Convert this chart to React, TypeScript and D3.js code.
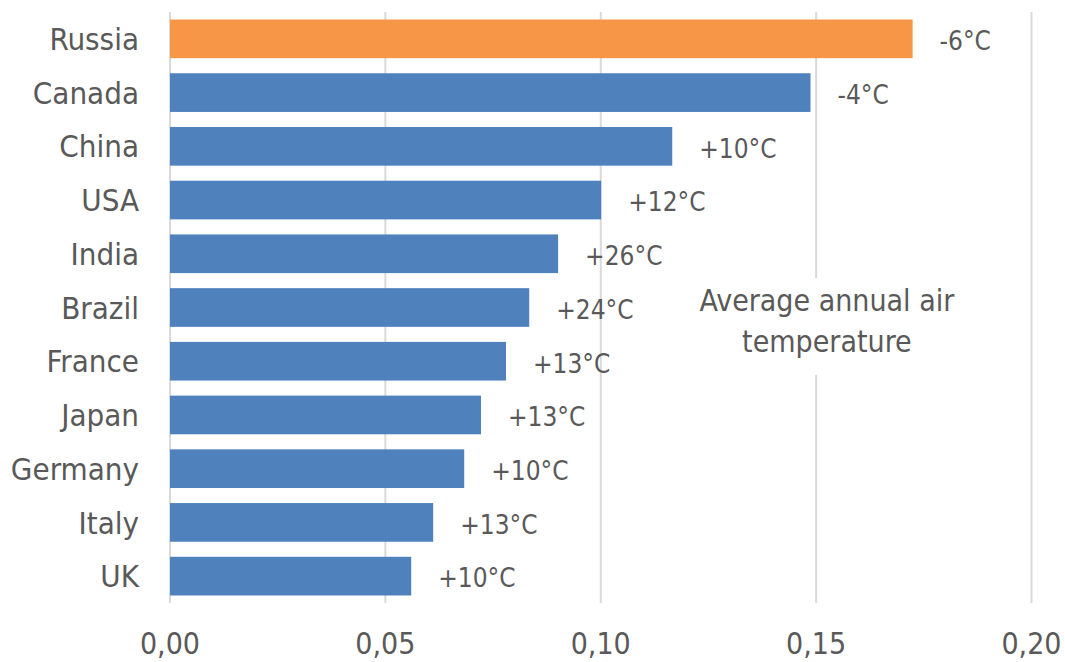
import React from "react";
import * as d3 from "d3";

const countries = ["Russia", "Canada", "China", "USA", "India", "Brazil", "France", "Japan", "Germany", "Italy", "UK"];
const values = [0.1724, 0.1487, 0.1166, 0.1001, 0.0901, 0.0834, 0.0780, 0.0722, 0.0683, 0.0611, 0.0560];
const tempLabels = ["-6°C", "-4°C", "+10°C", "+12°C", "+26°C", "+24°C", "+13°C", "+13°C", "+10°C", "+13°C", "+10°C"];
const highlighted = ["Russia"];
const xTicks = [0, 0.05, 0.1, 0.15, 0.2];
const annotationLines = ["Average annual air", "temperature"];

const W = 1065;
const H = 662;
const FONT = "'DejaVu Sans Condensed', 'DejaVu Sans', sans-serif";
const TEXT = "#595959";

export default function App() {
  const x = d3.scaleLinear().domain([0, 0.2]).range([170, 1031.5]);
  const y = d3.scaleBand().domain(countries).range([12, 603]).paddingInner(0.28).paddingOuter(0.14);
  const fmt = (v: number) => d3.format(".2f")(v).replace(".", ",");
  const annX = x(0.1525);
  return (
    <svg width={W} height={H} style={{ position: "absolute", left: 0, top: 0, background: "#fff" }} fontFamily={FONT}>
      {xTicks.map((t) => (
        <line key={t} x1={x(t)} x2={x(t)} y1={12} y2={603} stroke="#d9d9d9" strokeWidth={2} />
      ))}
      <rect x={annX - 140} y={278} width={280} height={97} fill="#fff" />
      {countries.map((c, i) => (
        <g key={c}>
          <rect
            x={x(0)}
            y={y(c)!}
            width={x(values[i]) - x(0)}
            height={y.bandwidth()}
            fill={highlighted.includes(c) ? "#F79646" : "#4F81BD"}
          />
          <text x={139} y={y(c)! + y.bandwidth() / 2} dy="0.36em" textAnchor="end" fontSize={31} fill={TEXT}>
            {c}
          </text>
          <text x={x(values[i]) + 27} y={y(c)! + y.bandwidth() / 2 + 2} dy="0.36em" fontSize={26} fill={TEXT}>
            {tempLabels[i]}
          </text>
        </g>
      ))}
      {xTicks.map((t) => (
        <text key={"l" + t} x={x(t)} y={654} textAnchor="middle" fontSize={30} fill={TEXT}>
          {fmt(t)}
        </text>
      ))}
      {annotationLines.map((l, i) => (
        <text key={l} x={annX} y={311 + i * 41} textAnchor="middle" fontSize={30} fill={TEXT}>
          {l}
        </text>
      ))}
    </svg>
  );
}
